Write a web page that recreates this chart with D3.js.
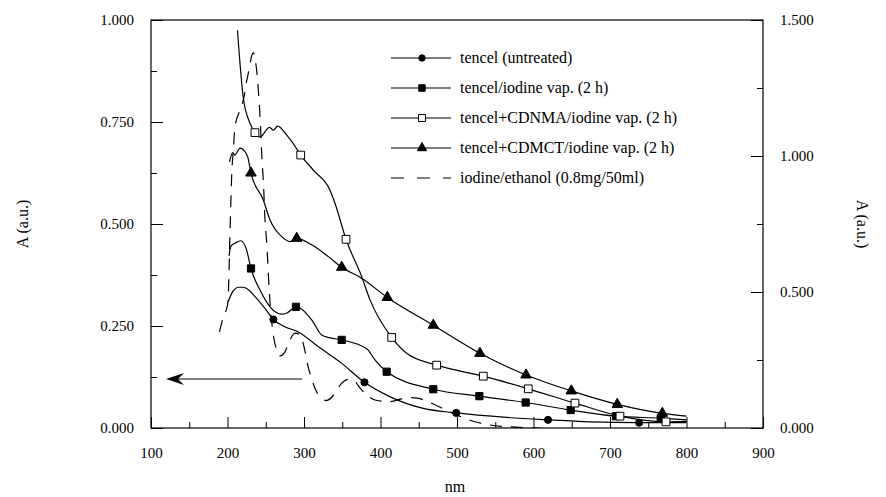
<!DOCTYPE html>
<html>
<head>
<meta charset="utf-8">
<script src="https://cdnjs.cloudflare.com/ajax/libs/d3/7.8.5/d3.min.js"></script>
<style>
  body { margin: 0; background: #fff; }
  text { font-family: "Liberation Serif", "Times New Roman", serif; fill: #000; }
</style>
</head>
<body>
<div id="chart"></div>
<script>
// [wavelength nm, absorbance]
var untreated = [[201,0.310],[205.5,0.330],[210,0.341],[214,0.345],[220,0.345],[225,0.342],[236,0.322],[249,0.293],[260,0.266],[275,0.248],[292,0.236],[319,0.199],[349,0.159],[379,0.112],[412,0.077],[456,0.048],[499,0.037],[565,0.026],[619,0.020],[674,0.015],[738,0.013],[800,0.013]];
var untreatedMarks = [[260,0.266],[379,0.112],[499,0.037],[619,0.020],[738,0.013]];

var iodineVap = [[202,0.422],[204.5,0.446],[209.8,0.453],[217.6,0.459],[225,0.436],[230.7,0.391],[242.5,0.338],[255.6,0.297],[270.9,0.279],[277.8,0.282],[289.5,0.297],[310,0.265],[323,0.228],[334,0.221],[349.3,0.216],[382,0.194],[392.8,0.167],[408.1,0.138],[469,0.095],[529.2,0.078],[589.8,0.0625],[648.6,0.044],[707.8,0.029],[766.3,0.024],[800,0.020]];
var iodineVapMarks = [[230.7,0.391],[289.5,0.297],[349.3,0.216],[408.1,0.138],[469,0.095],[529.2,0.078],[589.8,0.0625],[648.6,0.044],[707.8,0.029],[766.3,0.024]];

var cdnma = [[213,0.975],[220.5,0.812],[229.4,0.747],[235.9,0.724],[242.5,0.713],[254.9,0.737],[259.9,0.730],[265.6,0.740],[277.4,0.718],[285.6,0.698],[295.7,0.669],[312.2,0.632],[334,0.583],[340.5,0.551],[354.9,0.4625],[375.4,0.371],[386.3,0.314],[414.6,0.222],[434.2,0.183],[473.4,0.154],[534.4,0.127],[593.2,0.096],[654.2,0.061],[713,0.029],[773.2,0.015],[800,0.016]];
var cdnmaMarks = [[235.9,0.724],[295.7,0.669],[354.9,0.4625],[414.6,0.222],[473.4,0.154],[534.4,0.127],[593.2,0.096],[654.2,0.061],[713,0.029],[773.2,0.015]];

var cdmct = [[202.6,0.652],[206.8,0.675],[209.8,0.669],[216.3,0.686],[222.9,0.677],[226.5,0.664],[230.7,0.625],[246.8,0.559],[255.6,0.510],[270.9,0.469],[281.7,0.457],[290.5,0.465],[310.1,0.449],[331.8,0.420],[349.3,0.394],[375.4,0.367],[408.9,0.320],[469,0.252],[530,0.183],[590.2,0.130],[649.4,0.091],[709.5,0.058],[768.4,0.036],[800,0.029]];
var cdmctMarks = [[230.7,0.625],[290.5,0.465],[349.3,0.394],[408.9,0.320],[469,0.252],[530,0.183],[590.2,0.130],[649.4,0.091],[709.5,0.058],[768.4,0.036]];

// iodine/ethanol, right axis
var ethanol = [[189.5,0.353],[194.5,0.408],[200,0.452],[201.3,0.507],[202.2,0.599],[203,0.691],[203.9,0.783],[205.5,0.930],[207.6,1.022],[209.8,1.107],[216.3,1.169],[221.6,1.217],[224.8,1.272],[228.1,1.316],[231.6,1.368],[234,1.379],[236.9,1.342],[239,1.290],[241.2,1.206],[243.1,1.114],[245.1,0.985],[246.8,0.912],[249,0.765],[251,0.691],[252.5,0.618],[254.5,0.507],[256.9,0.415],[259.9,0.342],[264.3,0.287],[269.3,0.265],[275.2,0.281],[281.7,0.324],[288.2,0.349],[294.8,0.342],[300.4,0.294],[304.8,0.232],[309.2,0.1875],[315.3,0.140],[320.9,0.116],[328.8,0.101],[336.6,0.114],[344.1,0.146],[351,0.169],[357.9,0.179],[364.1,0.176],[375.4,0.140],[383.7,0.118],[392.8,0.103],[412.4,0.097],[429.8,0.109],[438.6,0.112],[449.4,0.109],[466.9,0.091],[490.8,0.059],[523.5,0.023],[543.1,0.011],[569.3,0.004],[608.5,0.0]];

var legendLabels = ["tencel (untreated)", "tencel/iodine vap. (2 h)", "tencel+CDNMA/iodine vap. (2 h)", "tencel+CDMCT/iodine vap. (2 h)", "iodine/ethanol (0.8mg/50ml)"];
var xTicks = [100, 200, 300, 400, 500, 600, 700, 800, 900];
var yLeftTicks = [0, 0.25, 0.5, 0.75, 1];
var yRightTicks = [0, 0.5, 1, 1.5];

var W = 886, H = 497;
var svg = d3.select("#chart").append("svg").attr("width", W).attr("height", H);

var x = d3.scaleLinear().domain([100, 900]).range([151, 763]);
var yL = d3.scaleLinear().domain([0, 1]).range([428, 20]);
var yR = d3.scaleLinear().domain([0, 1.5]).range([428, 20]);

// axes, ticks pointing inward
var gx = svg.append("g").attr("transform", "translate(0,428)")
  .call(d3.axisBottom(x).tickValues(xTicks).tickSizeInner(-11).tickSizeOuter(0).tickPadding(19).tickFormat(d3.format("d")));
svg.append("g").attr("transform", "translate(0,428)")
  .call(d3.axisBottom(x).tickValues(d3.range(150, 900, 100)).tickSize(-6).tickFormat(""));

var gl = svg.append("g").attr("transform", "translate(151,0)")
  .call(d3.axisLeft(yL).tickValues(yLeftTicks).tickSizeInner(-12).tickSizeOuter(0).tickPadding(17).tickFormat(d3.format(".3f")));
svg.append("g").attr("transform", "translate(151,0)")
  .call(d3.axisLeft(yL).tickValues([0.125, 0.375, 0.625, 0.875]).tickSize(-6).tickFormat(""));

var gr = svg.append("g").attr("transform", "translate(763,0)")
  .call(d3.axisRight(yR).tickValues(yRightTicks).tickSizeInner(-12).tickSizeOuter(0).tickPadding(17).tickFormat(d3.format(".3f")));
svg.append("g").attr("transform", "translate(763,0)")
  .call(d3.axisRight(yR).tickValues([0.25, 0.75, 1.25]).tickSize(-6).tickFormat(""));

svg.selectAll(".domain").remove();
svg.selectAll(".tick line").attr("stroke", "#000").attr("stroke-width", 1);
svg.selectAll(".tick text").style("font-size", "15px").style("font-family", "Liberation Serif, serif");

svg.append("rect").attr("x", 151).attr("y", 20).attr("width", 612).attr("height", 408)
  .attr("fill", "none").attr("stroke", "#000").attr("stroke-width", 1.2);

// lines
svg.append("clipPath").attr("id", "clip").append("rect")
  .attr("x", 151).attr("y", 20).attr("width", 612).attr("height", 408);
var plot = svg.append("g").attr("clip-path", "url(#clip)");

var lineL = d3.line().x(function(d) { return x(d[0]); }).y(function(d) { return yL(d[1]); }).curve(d3.curveMonotoneX);
var lineR = d3.line().x(function(d) { return x(d[0]); }).y(function(d) { return yR(d[1]); }).curve(d3.curveMonotoneX);

[untreated, iodineVap, cdnma, cdmct].forEach(function(s) {
  plot.append("path").attr("d", lineL(s)).attr("fill", "none").attr("stroke", "#000").attr("stroke-width", 1.2);
});
plot.append("path").attr("d", lineR(ethanol)).attr("fill", "none").attr("stroke", "#000")
  .attr("stroke-width", 1.2).attr("stroke-dasharray", "12,9");

// markers
var styles = [
  {type: d3.symbolCircle, size: 40, fill: "#000"},
  {type: d3.symbolSquare, size: 52, fill: "#000"},
  {type: d3.symbolSquare, size: 60, fill: "#fff"},
  {type: d3.symbolTriangle, size: 48, fill: "#000"}
];
[untreatedMarks, iodineVapMarks, cdnmaMarks, cdmctMarks].forEach(function(m, i) {
  svg.selectAll(null).data(m).enter().append("path")
    .attr("d", d3.symbol().type(styles[i].type).size(styles[i].size))
    .attr("transform", function(d) { return "translate(" + x(d[0]) + "," + yL(d[1]) + ")"; })
    .attr("fill", styles[i].fill).attr("stroke", "#000").attr("stroke-width", 1);
});

// arrow pointing to left axis
svg.append("line").attr("x1", 302).attr("x2", 172).attr("y1", 379).attr("y2", 379)
  .attr("stroke", "#000").attr("stroke-width", 1.2);
svg.append("path").attr("d", "M166,379 L184,373 L178,379 L184,385 Z").attr("fill", "#000");

// legend
var leg = svg.append("g");
legendLabels.forEach(function(t, i) {
  var yy = 58 + i * 30;
  if (i < 4) {
    leg.append("line").attr("x1", 391).attr("x2", 451).attr("y1", yy).attr("y2", yy)
      .attr("stroke", "#000").attr("stroke-width", 1.2);
    leg.append("path").attr("d", d3.symbol().type(styles[i].type).size(styles[i].size * 0.8))
      .attr("transform", "translate(422," + yy + ")")
      .attr("fill", styles[i].fill).attr("stroke", "#000").attr("stroke-width", 1);
  } else {
    leg.append("line").attr("x1", 391).attr("x2", 451).attr("y1", yy).attr("y2", yy)
      .attr("stroke", "#000").attr("stroke-width", 1.2).attr("stroke-dasharray", "13,13");
  }
  leg.append("text").attr("x", 460).attr("y", yy + 5).style("font-size", "16px").text(t);
});

// axis titles
svg.append("text").attr("x", 455).attr("y", 492).attr("text-anchor", "middle").style("font-size", "16px").text("nm");
svg.append("text").attr("transform", "translate(28,224) rotate(-90)").attr("text-anchor", "middle").style("font-size", "16px").text("A (a.u.)");
svg.append("text").attr("transform", "translate(857,224) rotate(90)").attr("text-anchor", "middle").style("font-size", "16px").text("A (a.u.)");
</script>
</body>
</html>
